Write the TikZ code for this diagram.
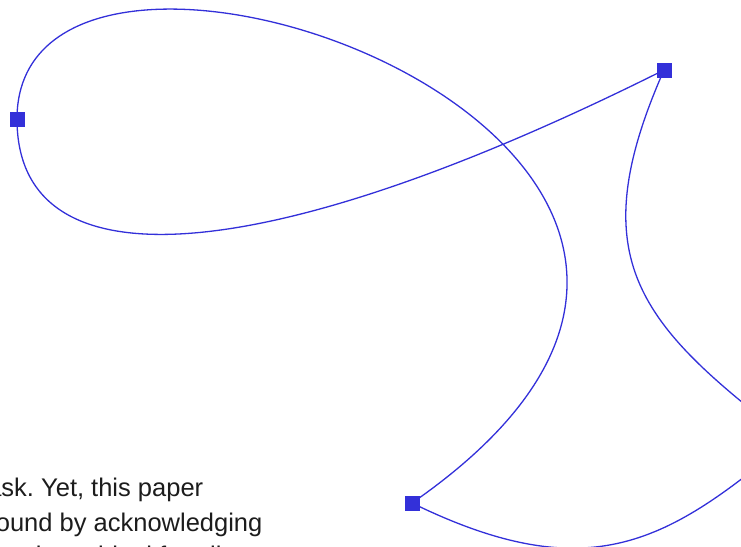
\documentclass[tikz,border=0pt]{standalone}
\usepackage{fontspec}
\setmainfont{Liberation Sans}
\usepackage{xcolor}
\usetikzlibrary{positioning}
\definecolor{loopblue}{HTML}{3330D9}
\definecolor{inkgray}{HTML}{1C1C1C}
\frenchspacing

\begin{document}
\begin{tikzpicture}[x=1pt, y=-1pt,
  knot/.style  = {draw=none, fill=loopblue, minimum size=15pt,
                  inner sep=0pt, outer sep=0pt},
  loop/.style  = {draw=loopblue, line width=1.3pt, line join=round},
  prose/.style = {anchor=base west, inner sep=0pt, text=inkgray,
                  font=\fontsize{25.5}{35}\selectfont},
]
\useasboundingbox (0,0) rectangle (741,546);
\clip (0,0) rectangle (741,546);

%% ── Text cut by the left and bottom edges ───────────────────────────────────
\node[prose] (txtA) at (-20,496) {task. Yet, this paper};
\node[prose] (txtB) at (-27,531) {ground by acknowledging};
\node[prose] (txtC) at (-21,564) {ours in an ideal for all};

%% ── Anchor squares ──────────────────────────────────────────────────────────
\node[knot] (ptA) at ( 17,119) {};
\node[knot] (ptB) at (412,503) {};
\node[knot] (ptD) at (664, 70) {};
\coordinate (ptC) at (790,440);

%% ── Closed curve through the anchors ────────────────────────────────────────
\draw[loop] (ptA.center) .. controls (17,-165) and (920,151) .. (ptB.center)
  .. controls (592,591) and (670,540) .. (ptC)
  .. controls (640,325) and (580,260) .. (ptD.center)
  .. controls (264,270) and (17,289) .. (ptA.center);

\end{tikzpicture}
\end{document}
